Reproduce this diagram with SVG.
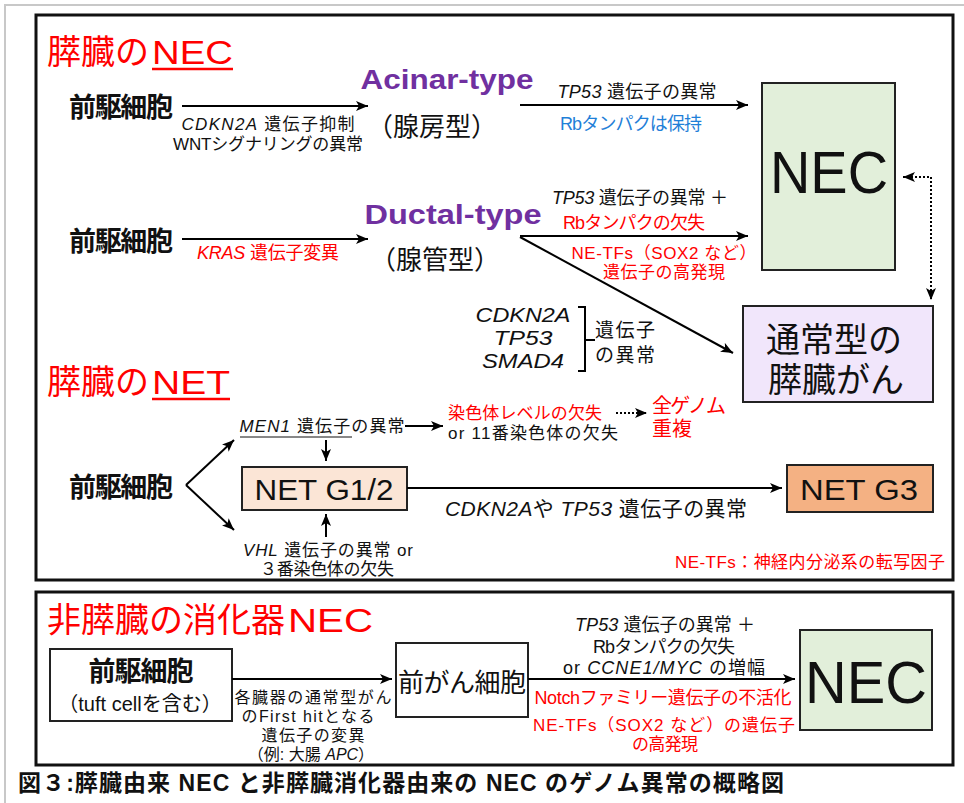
<svg xmlns="http://www.w3.org/2000/svg" width="964" height="803" viewBox="0 0 964 803">
<defs>
<style>
text{font-family:"Liberation Sans","Noto Sans CJK JP",sans-serif;fill:#111;dominant-baseline:central;}
.c{text-anchor:middle;}
.red{fill:#FF0000;}
.pur{fill:#7030A0;font-weight:700;}
.blue{fill:#1F80D8;}
.b{font-weight:700;}
.i{font-style:italic;}
.frame{fill:none;stroke:#111;stroke-width:3;}
.node{stroke:#222;stroke-width:2;}
.ln{stroke:#000;stroke-width:2;fill:none;}
.dot{stroke:#000;stroke-width:2;fill:none;stroke-dasharray:2 2;}
</style>
<marker id="ah" markerUnits="userSpaceOnUse" markerWidth="13" markerHeight="11" refX="12" refY="5" orient="auto-start-reverse" viewBox="0 0 13 11">
<path d="M0,0 L12,5 L0,10 L3,5 Z" fill="#000"/>
</marker>
</defs>
<rect width="964" height="803" fill="#fff"/>
<path d="M5,803 V5 H964" fill="none" stroke="#c8c8c8" stroke-width="2"/>

<g id="sections">
<rect class="frame" x="36" y="15" width="917" height="565" fill="#fff"/>
<rect class="frame" x="36" y="592" width="917" height="173" fill="#fff"/>
</g>

<g id="title-nec">
<text x="47" y="52" font-size="34" class="red">膵臓の</text>
<text x="152" y="52" font-size="34" class="red" textLength="81" lengthAdjust="spacingAndGlyphs">NEC</text>
<line x1="152" y1="69" x2="233" y2="69" stroke="#FF0000" stroke-width="2.5"/>
</g>
<g id="prog-acinar"><text x="121" y="108" font-size="27" class="c b" textLength="104">前駆細胞</text></g>
<g id="acinar">
<text x="447" y="80" font-size="27" class="c pur" textLength="173" lengthAdjust="spacingAndGlyphs">Acinar-type</text>
<text x="432" y="127" font-size="26" class="c">（腺房型）</text>
</g>
<g id="prog-ductal"><text x="121" y="242" font-size="27" class="c b" textLength="104">前駆細胞</text></g>
<g id="ductal">
<text x="453" y="215" font-size="27" class="c pur" textLength="177" lengthAdjust="spacingAndGlyphs">Ductal-type</text>
<text x="435" y="260" font-size="26" class="c">（腺管型）</text>
</g>
<g id="nec1">
<rect class="node" x="762" y="83" width="133" height="187" fill="#E2EFDA"/>
<text x="829" y="172" font-size="60" class="c" textLength="118" lengthAdjust="spacingAndGlyphs">NEC</text>
</g>
<g id="pdac">
<rect class="node" x="743" y="306" width="190" height="96" fill="#F1E6FB" stroke-width="2.5"/>
<text x="834" y="340" font-size="34" class="c">通常型の</text>
<text x="836" y="380" font-size="34" class="c">膵臓がん</text>
</g>

<g id="title-net">
<text x="47" y="382" font-size="34" class="red">膵臓の</text>
<text x="152" y="382" font-size="34" class="red" textLength="78" lengthAdjust="spacingAndGlyphs">NET</text>
<line x1="152" y1="399" x2="230" y2="399" stroke="#FF0000" stroke-width="2.5"/>
</g>
<g id="prog-net"><text x="121" y="488" font-size="27" class="c b" textLength="104">前駆細胞</text></g>
<g id="net-g12">
<rect class="node" x="242" y="467" width="165" height="43" fill="#FBE5D6"/>
<text x="324" y="489" font-size="30" class="c" textLength="139" lengthAdjust="spacingAndGlyphs">NET G1/2</text>
</g>
<g id="net-g3">
<rect class="node" x="787" y="465" width="146" height="47" fill="#F4B183"/>
<text x="859" y="489" font-size="30" class="c" textLength="118" lengthAdjust="spacingAndGlyphs">NET G3</text>
</g>
<g id="wgd">
<text x="652" y="406" font-size="20" class="red" textLength="74">全ゲノム</text>
<text x="652" y="429" font-size="20" class="red">重複</text>
</g>

<g id="title-gi">
<text x="47" y="620" font-size="34" class="red">非膵臓の消化器</text>
<text x="288" y="620" font-size="34" class="red" textLength="85" lengthAdjust="spacingAndGlyphs">NEC</text>
</g>
<g id="prog-gi">
<rect class="node" x="50" y="649" width="182" height="72" fill="#fff"/>
<text x="141" y="672" font-size="27" class="c b" textLength="105">前駆細胞</text>
<text x="140" y="704" font-size="20" class="c">（tuft cellを含む）</text>
</g>
<g id="precancer">
<rect class="node" x="396" y="643" width="132" height="74" fill="#fff"/>
<text x="462" y="683" font-size="26" class="c" textLength="128">前がん細胞</text>
</g>
<g id="nec2">
<rect class="node" x="800" y="630" width="132" height="100" fill="#E2EFDA"/>
<text x="866" y="682" font-size="60" class="c" textLength="122" lengthAdjust="spacingAndGlyphs">NEC</text>
</g>

<g id="connectors">
<line class="ln" x1="182" y1="106" x2="368" y2="106" marker-end="url(#ah)"/>
<line class="ln" x1="520" y1="105" x2="748" y2="105" marker-end="url(#ah)"/>
<line class="ln" x1="182" y1="239" x2="368" y2="239" marker-end="url(#ah)"/>
<line class="ln" x1="520" y1="236" x2="748" y2="236" marker-end="url(#ah)"/>
<line class="ln" x1="520" y1="237" x2="733" y2="353" marker-end="url(#ah)"/>
<path class="dot" d="M903,177 H931 V300" marker-start="url(#ah)" marker-end="url(#ah)"/>
<path class="ln" d="M578,307 H585 V371 H578 M585,340 H595" stroke-width="1.8"/>
<line class="ln" x1="186" y1="485" x2="234" y2="440" marker-end="url(#ah)"/>
<line class="ln" x1="186" y1="485" x2="234" y2="530" marker-end="url(#ah)"/>
<line class="ln" x1="405" y1="426" x2="443" y2="426" marker-end="url(#ah)"/>
<line class="dot" x1="616" y1="413" x2="647" y2="413" marker-end="url(#ah)"/>
<line class="ln" x1="326" y1="440" x2="326" y2="461" marker-end="url(#ah)"/>
<line class="ln" x1="326" y1="537" x2="326" y2="514" marker-end="url(#ah)"/>
<line class="ln" x1="407" y1="488" x2="782" y2="488" marker-end="url(#ah)"/>
<line class="ln" x1="232" y1="679" x2="392" y2="679" marker-end="url(#ah)"/>
<line class="ln" x1="528" y1="679" x2="795" y2="679" marker-end="url(#ah)"/>
</g>

<g id="labels">
<text x="268" y="124" font-size="17" class="c" textLength="173"><tspan class="i">CDKN2A</tspan> 遺伝子抑制</text>
<text x="268" y="144" font-size="17" class="c" textLength="190">WNTシグナリングの異常</text>
<text x="637" y="92" font-size="18" class="c" textLength="159"><tspan class="i">TP53</tspan> 遺伝子の異常</text>
<text x="631" y="124" font-size="18" class="c blue" textLength="142">Rbタンパクは保持</text>
<text x="268" y="253" font-size="18" class="c red" textLength="142"><tspan class="i red">KRAS</tspan> 遺伝子変異</text>
<text x="640" y="198" font-size="18" class="c" textLength="176"><tspan class="i">TP53</tspan> 遺伝子の異常 ＋</text>
<text x="634" y="223" font-size="18" class="c red" textLength="142">Rbタンパクの欠失</text>
<text x="664" y="253" font-size="17" class="c red" textLength="185">NE-TFs（SOX2 など）</text>
<text x="664" y="272" font-size="17" class="c red" textLength="122">遺伝子の高発現</text>
<text x="523" y="315" font-size="20" class="c i" textLength="95" lengthAdjust="spacingAndGlyphs">CDKN2A</text>
<text x="523" y="338" font-size="20" class="c i" textLength="59" lengthAdjust="spacingAndGlyphs">TP53</text>
<text x="523" y="361" font-size="20" class="c i" textLength="82" lengthAdjust="spacingAndGlyphs">SMAD4</text>
<text x="625" y="330" font-size="19" class="c" textLength="60">遺伝子</text>
<text x="625" y="355" font-size="19" class="c" textLength="60">の異常</text>
<text x="322" y="426" font-size="17" class="c" textLength="165"><tspan class="i">MEN1</tspan> 遺伝子の異常</text>
<line x1="240" y1="437" x2="352" y2="437" stroke="#111" stroke-width="1"/>
<text x="525" y="413" font-size="17" class="c red" textLength="154">染色体レベルの欠失</text>
<text x="533" y="433" font-size="17" class="c" textLength="170">or 11番染色体の欠失</text>
<text x="328" y="550" font-size="17" class="c" textLength="170"><tspan class="i">VHL</tspan> 遺伝子の異常 or</text>
<text x="327" y="569" font-size="17" class="c" textLength="134">３番染色体の欠失</text>
<text x="596" y="508" font-size="21" class="c" textLength="302"><tspan class="i">CDKN2A</tspan>や <tspan class="i">TP53</tspan> 遺伝子の異常</text>
<text x="810" y="562" font-size="17" class="c red" textLength="270">NE-TFs：神経内分泌系の転写因子</text>
<text x="313" y="697" font-size="16" class="c" textLength="157">各臓器の通常型がん</text>
<text x="308" y="716" font-size="16" class="c" textLength="133">のFirst hitとなる</text>
<text x="313" y="735" font-size="16" class="c" textLength="103">遺伝子の変異</text>
<text x="311" y="754" font-size="16" class="c">（例: 大腸 <tspan class="i">APC</tspan>）</text>
<text x="665" y="625" font-size="18" class="c" textLength="180"><tspan class="i">TP53</tspan> 遺伝子の異常 ＋</text>
<text x="664" y="647" font-size="18" class="c" textLength="142">Rbタンパクの欠失</text>
<text x="664" y="668" font-size="18" class="c" textLength="202">or <tspan class="i">CCNE1/MYC</tspan> の増幅</text>
<text x="663" y="698" font-size="18" class="c red" textLength="257">Notchファミリー遺伝子の不活化</text>
<text x="664" y="725" font-size="17" class="c red" textLength="262">NE-TFs（SOX2 など）の遺伝子</text>
<text x="665" y="744" font-size="17" class="c red" textLength="66">の高発現</text>
</g>

<g id="caption">
<text x="18" y="783" font-size="23" class="b" textLength="766">図３:膵臓由来 NEC と非膵臓消化器由来の NEC のゲノム異常の概略図</text>
</g>
</svg>
